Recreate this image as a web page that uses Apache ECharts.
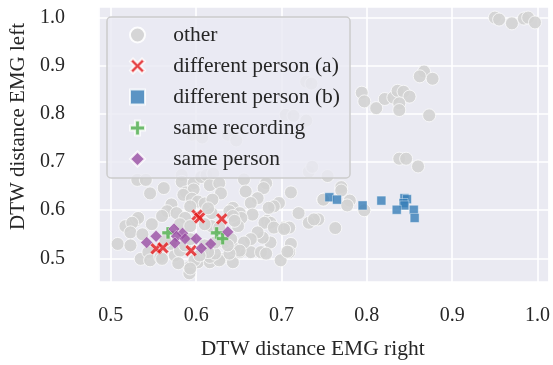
<!DOCTYPE html>
<html>
<head>
<meta charset="utf-8">
<script src="https://cdn.jsdelivr.net/npm/echarts@6/dist/echarts.min.js"></script>
<style>
  html, body { margin: 0; padding: 0; background: #fff; }
  #chart { width: 553px; height: 365px; }
</style>
</head>
<body>
<div id="chart"></div>
<script>
  // [emg right, emg left]
  var otherPts = [
    // top right group
    [0.950, 1.000], [0.955, 0.996], [0.970, 0.988], [0.984, 0.998], [0.989, 1.000], [0.997, 0.990],
    // upper middle
    [0.867, 0.888], [0.862, 0.878], [0.877, 0.873], [0.794, 0.844], [0.797, 0.826], [0.811, 0.812],
    [0.821, 0.831], [0.831, 0.834], [0.836, 0.848], [0.843, 0.846], [0.850, 0.836], [0.838, 0.822],
    [0.838, 0.808], [0.873, 0.797], [0.838, 0.707], [0.846, 0.707], [0.860, 0.691],
    [0.754, 0.671], [0.770, 0.648], [0.770, 0.641], [0.749, 0.622], [0.780, 0.620], [0.777, 0.610],
    [0.797, 0.600], [0.743, 0.581], [0.763, 0.563],
    // behind legend
    [0.729, 0.867], [0.735, 0.863], [0.705, 0.798], [0.714, 0.796], [0.729, 0.786],
    [0.595, 0.757], [0.607, 0.751], [0.637, 0.757], [0.647, 0.745],
    // main cluster, top
    [0.531, 0.663], [0.541, 0.663], [0.546, 0.635], [0.562, 0.646], [0.583, 0.673], [0.583, 0.659],
    [0.597, 0.656], [0.606, 0.669], [0.612, 0.673], [0.620, 0.676], [0.616, 0.652], [0.627, 0.656],
    [0.629, 0.635], [0.656, 0.664], [0.658, 0.639], [0.682, 0.656], [0.679, 0.646], [0.711, 0.637],
    [0.732, 0.680], [0.736, 0.690], [0.588, 0.637], [0.597, 0.643],
    // main cluster, middle
    [0.672, 0.625], [0.664, 0.615], [0.697, 0.615], [0.691, 0.608], [0.685, 0.605], [0.666, 0.591],
    [0.643, 0.605], [0.639, 0.598], [0.651, 0.594], [0.653, 0.584], [0.649, 0.567], [0.683, 0.578],
    [0.687, 0.574], [0.680, 0.574], [0.703, 0.564], [0.709, 0.564], [0.720, 0.594], [0.732, 0.574],
    [0.738, 0.581], [0.749, 0.622], [0.585, 0.632], [0.595, 0.624], [0.602, 0.618], [0.593, 0.608],
    [0.571, 0.612], [0.566, 0.598], [0.560, 0.588], [0.577, 0.594], [0.529, 0.578], [0.517, 0.567],
    [0.548, 0.571], [0.618, 0.594], [0.643, 0.588], [0.645, 0.578], [0.610, 0.614], [0.619, 0.622],
    [0.614, 0.604], [0.587, 0.584], [0.581, 0.571], [0.593, 0.567], [0.618, 0.567], [0.610, 0.571],
    [0.627, 0.564], [0.532, 0.584], [0.525, 0.574],
    // main cluster, bottom
    [0.523, 0.554], [0.508, 0.530], [0.537, 0.550], [0.523, 0.527], [0.535, 0.499], [0.544, 0.513],
    [0.546, 0.496], [0.558, 0.503], [0.560, 0.499], [0.575, 0.506], [0.592, 0.482], [0.592, 0.469],
    [0.602, 0.492], [0.598, 0.496], [0.616, 0.492], [0.629, 0.499], [0.643, 0.492], [0.651, 0.513],
    [0.664, 0.513], [0.676, 0.513], [0.687, 0.533], [0.678, 0.543], [0.691, 0.564], [0.703, 0.561],
    [0.699, 0.496], [0.711, 0.530], [0.709, 0.513], [0.672, 0.554], [0.664, 0.540], [0.656, 0.533],
    [0.645, 0.520], [0.651, 0.516], [0.682, 0.510], [0.707, 0.514], [0.627, 0.496], [0.616, 0.503],
    [0.610, 0.527], [0.622, 0.510], [0.639, 0.510], [0.633, 0.533], [0.641, 0.540], [0.637, 0.527],
    [0.622, 0.533], [0.614, 0.513], [0.570, 0.530], [0.564, 0.537], [0.581, 0.516], [0.604, 0.506],
    [0.579, 0.490], [0.593, 0.479], [0.587, 0.527], [0.593, 0.540]
  ]
  var diffPersonA = [
    [0.601, 0.590], [0.604, 0.584], [0.630, 0.582], [0.553, 0.520], [0.561, 0.522], [0.594, 0.516]
  ]
  var diffPersonB = [
    [0.756, 0.627], [0.765, 0.622], [0.795, 0.610], [0.817, 0.620], [0.844, 0.625], [0.847, 0.623],
    [0.843, 0.615], [0.844, 0.610], [0.835, 0.601], [0.855, 0.601], [0.856, 0.584]
  ]
  var sameRecording = [
    [0.624, 0.553], [0.631, 0.541], [0.567, 0.553]
  ]
  var samePerson = [
    [0.542, 0.533], [0.553, 0.546], [0.574, 0.561], [0.584, 0.552], [0.577, 0.546], [0.575, 0.532],
    [0.587, 0.541], [0.600, 0.541], [0.606, 0.521], [0.617, 0.530], [0.637, 0.555]
  ]
  var seriesNames = ['other', 'different person (a)', 'different person (b)', 'same recording', 'same person']

  var FONT = 'Liberation Serif'
  var xSymbol = 'path://M0,2 L2,0 L5,3 L8,0 L10,2 L7,5 L10,8 L8,10 L5,7 L2,10 L0,8 L3,5 Z'
  var plusSymbol = 'path://M3.4,0 H6.6 V3.4 H10 V6.6 H6.6 V10 H3.4 V6.6 H0 V3.4 H3.4 Z'
  var squareSymbol = 'path://M0,0 H10 V10 H0 Z'
  var diamondSymbol = 'path://M5,0 L10,5 L5,10 L0,5 Z'

  function tickFmt(v) {
    return Math.abs(v * 10 - Math.round(v * 10)) < 1e-6 ? v.toFixed(1) : ''
  }

  var myChart = echarts.init(document.getElementById('chart'))
  var option = {
    animation: false,
    grid: { left: 98, right: 0, top: 7, bottom: 77, show: true, backgroundColor: '#eaeaf2', borderWidth: 0 },
    xAxis: {
      type: 'value',
      min: 0.486,
      max: 1.013,
      splitNumber: 5,
      name: 'DTW distance EMG right',
      nameLocation: 'middle',
      nameGap: 56,
      nameTextStyle: { fontFamily: FONT, fontSize: 21.5, color: '#262626', padding: [0, 22, 0, 0] },
      axisLine: { show: false },
      axisTick: { show: false },
      axisLabel: { margin: 24, fontFamily: FONT, fontSize: 20, color: '#262626', formatter: tickFmt },
      splitLine: { lineStyle: { color: '#ffffff', width: 1.6 } }
    },
    yAxis: {
      type: 'value',
      min: 0.451,
      max: 1.022,
      splitNumber: 5,
      name: 'DTW distance EMG left',
      nameLocation: 'middle',
      nameGap: 55,
      nameTextStyle: { fontFamily: FONT, fontSize: 21, color: '#262626', padding: [0, 0, 0, 36] },
      axisLine: { show: false },
      axisTick: { show: false },
      axisLabel: { margin: 34, fontFamily: FONT, fontSize: 20, color: '#262626', formatter: tickFmt },
      splitLine: { lineStyle: { color: '#ffffff', width: 1.6 } }
    },
    legend: {
      orient: 'vertical',
      left: 107,
      top: 17,
      padding: [7, 10, 8, 22],
      itemWidth: 40,
      itemHeight: 15,
      itemGap: 9,
      backgroundColor: 'rgba(234,234,242,0.8)',
      borderColor: '#cccccc',
      borderWidth: 1.5,
      borderRadius: 4,
      formatter: function(name) {
        return '\u2002' + name
      },
      textStyle: { fontFamily: FONT, fontSize: 21.5, color: '#262626', lineHeight: 22 },
      data: seriesNames
    },
    series: [
      {
        name: seriesNames[0], type: 'scatter', data: otherPts,
        symbol: 'circle', symbolSize: 13,
        itemStyle: { color: '#d3d3d3', borderColor: '#ffffff', borderWidth: 0.8, opacity: 0.9 }
      },
      {
        name: seriesNames[1], type: 'scatter', data: diffPersonA,
        symbol: xSymbol, symbolSize: 12,
        itemStyle: { color: '#e41a1c', borderColor: '#ffffff', borderWidth: 0.5, opacity: 0.8 }
      },
      {
        name: seriesNames[2], type: 'scatter', data: diffPersonB,
        symbol: squareSymbol, symbolSize: 9,
        itemStyle: { color: '#377eb8', borderColor: '#ffffff', borderWidth: 0.5, opacity: 0.8 }
      },
      {
        name: seriesNames[3], type: 'scatter', data: sameRecording,
        symbol: plusSymbol, symbolSize: 12,
        itemStyle: { color: '#4daf4a', borderColor: '#ffffff', borderWidth: 0.5, opacity: 0.8 }
      },
      {
        name: seriesNames[4], type: 'scatter', data: samePerson,
        symbol: diamondSymbol, symbolSize: 12,
        itemStyle: { color: '#984ea3', borderColor: '#ffffff', borderWidth: 0.5, opacity: 0.8 }
      }
    ]
  }
  myChart.setOption(option)
</script>
</body>
</html>
